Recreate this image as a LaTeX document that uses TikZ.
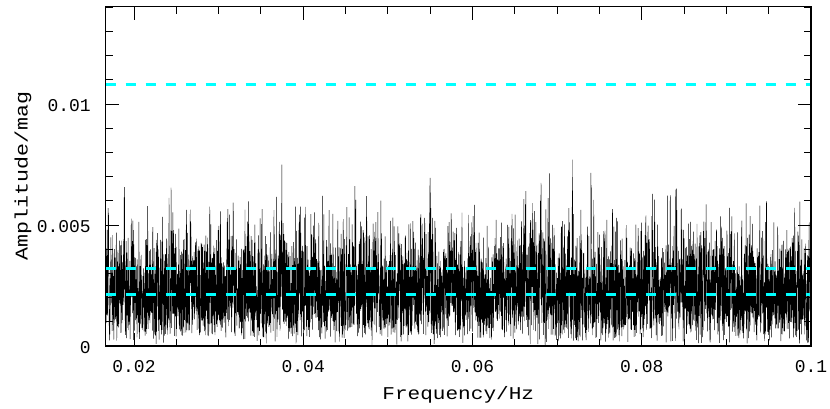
\documentclass[tikz,border=0pt]{standalone}
\usepackage{fontspec}
\usepackage{graphicx}
\newfontfamily\plotfont{Liberation Mono}
\definecolor{levelcyan}{RGB}{0,255,255}
\makeatletter
\gdef\gre{0}\gdef\gim{0}
% one step of a smooth (AR) gaussian component plus fast jitter
\def\noisestep#1{%
  \pgfmathrand@\let\ra\pgfmathresult
  \pgfmathrand@\let\rb\pgfmathresult
  \pgfmathrand@\let\rc\pgfmathresult
  \pgfmathadd@{\ra}{\rb}\pgfmathadd@{\pgfmathresult}{\rc}%
  \pgfmathmultiply@{\pgfmathresult}{0.436}\let\tmpA\pgfmathresult
  \pgfmathmultiply@{#1}{0.9}\pgfmathadd@{\pgfmathresult}{\tmpA}%
  \xdef#1{\pgfmathresult}%
  \pgfmathrand@\pgfmathmultiply@{\pgfmathresult}{1.04}\let\tmpB\pgfmathresult
  \pgfmathmultiply@{#1}{0.8}\pgfmathadd@{\pgfmathresult}{\tmpB}%
}
\pgfmathdeclarefunction{noisev}{1}{%
  \begingroup
  \noisestep\gre\let\zre\pgfmathresult
  \noisestep\gim\let\zim\pgfmathresult
  \pgfmathmultiply@{\zre}{\zre}\let\sa\pgfmathresult
  \pgfmathmultiply@{\zim}{\zim}\pgfmathadd@{\pgfmathresult}{\sa}%
  \pgfmathsqrt@{\pgfmathresult}%
  \pgfmathmultiply@{\pgfmathresult}{46}%
  \pgfmathsmuggle\pgfmathresult
  \endgroup
}
\makeatother
\tikzset{
  frame/.style={line width=1.1pt, black},
  tickline/.style={line width=1pt, black},
  noise/.style={line width=0.45pt, black, line join=miter},
  level/.style={levelcyan, line width=2.5pt, dash pattern=on 10.7pt off 9.3pt},
  ticklab/.style={inner sep=0pt, font=\plotfont\fontsize{18}{20}\selectfont},
  axlab/.style={inner sep=0pt, font=\plotfont\fontsize{18}{20}\selectfont}
}
\begin{document}
\begin{tikzpicture}[x=1pt,y=-1pt]
\useasboundingbox (0,0) rectangle (830,408);
% noise periodogram
\pgfmathsetseed{4711}
\draw[noise] plot[variable=\t, samples=7000, domain=106:810.5]
  (\t, {346-noisev(\t)});
% level lines
\coordinate (l1a) at (105.5,84.7);  \coordinate (l1b) at (811,84.7);
\coordinate (l2a) at (105.5,268.3); \coordinate (l2b) at (811,268.3);
\coordinate (l3a) at (105.5,294.3); \coordinate (l3b) at (811,294.3);
\draw[level] (l1a) -- (l1b);
\draw[level] (l2a) -- (l2b);
\draw[level] (l3a) -- (l3b);
% frame
\coordinate (bl) at (105.5,346);
\coordinate (tr) at (811,6.5);
\draw[frame] (bl) rectangle (tr);
% x ticks
\foreach \k in {0,...,16}{
  \pgfmathsetmacro{\xx}{134+\k*42.3125}
  \pgfmathtruncatemacro{\ismaj}{mod(\k,4)==0 ? 1 : 0}
  \ifnum\ismaj=1
    \draw[tickline] (\xx,346) -- (\xx,333);
    \draw[tickline] (\xx,6.5) -- (\xx,19.5);
  \else
    \draw[tickline] (\xx,346) -- (\xx,339);
    \draw[tickline] (\xx,6.5) -- (\xx,13.5);
  \fi
}
% y ticks
\foreach \j in {0,...,14}{
  \pgfmathsetmacro{\yy}{346-\j*24.2}
  \pgfmathtruncatemacro{\ismaj}{mod(\j,5)==0 ? 1 : 0}
  \ifnum\ismaj=1
    \draw[tickline] (105.5,\yy) -- (118.5,\yy);
    \draw[tickline] (811,\yy) -- (798,\yy);
  \else
    \draw[tickline] (105.5,\yy) -- (112.5,\yy);
    \draw[tickline] (811,\yy) -- (804,\yy);
  \fi
}
% x tick labels
\node[ticklab, anchor=base] (x02) at (134,372.5) {0.02};
\node[ticklab, anchor=base] (x04) at (303.25,372.5) {0.04};
\node[ticklab, anchor=base] (x06) at (472.5,372.5) {0.06};
\node[ticklab, anchor=base] (x08) at (641.75,372.5) {0.08};
\node[ticklab, anchor=base] (x10) at (811,372.5) {0.1};
% y tick labels
\node[ticklab, anchor=east] (y0) at (91,347.5) {0};
\node[ticklab, anchor=east] (y5) at (91,226.5) {0.005};
\node[ticklab, anchor=east] (y10) at (91,105.5) {0.01};
% axis labels
\node[axlab, anchor=base] (xlab) at (458.25,399) {\scalebox{1.17}[1]{Frequency/Hz}};
\node[axlab, anchor=base, rotate=90] (ylab) at (27.7,176) {\scalebox{1.2}[1]{Amplitude/mag}};
\end{tikzpicture}
\end{document}
